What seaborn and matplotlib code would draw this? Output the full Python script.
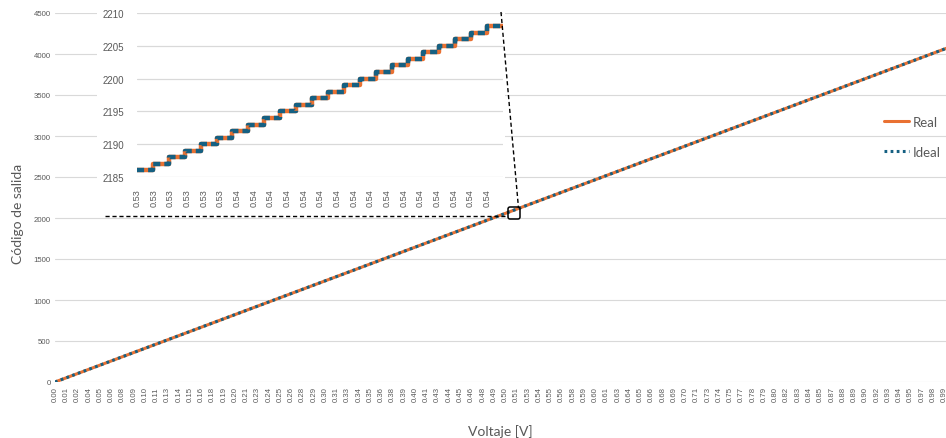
import matplotlib
matplotlib.use("Agg")
import matplotlib.pyplot as plt
from matplotlib.patches import Rectangle, FancyBboxPatch
from matplotlib.lines import Line2D
from matplotlib.transforms import IdentityTransform
import numpy as np
import pandas as pd
import seaborn as sns

# ---- data -------------------------------------------------------------
# full sweep of the 12-bit converter (straight line at this scale)
sweep_voltage = [0.00, 0.25, 0.50, 0.75, 1.00]
real_code = [0, 1024, 2048, 3072, 4095]
ideal_code = [0, 1024, 2048, 3072, 4095]

main_xticklabels = [
    "0.00", "0.01", "0.02", "0.04", "0.05", "0.06", "0.08", "0.09", "0.10", "0.11",
    "0.13", "0.14", "0.15", "0.16", "0.18", "0.19", "0.20", "0.21", "0.23", "0.24",
    "0.25", "0.26", "0.28", "0.29", "0.30", "0.31", "0.33", "0.34", "0.35", "0.36",
    "0.38", "0.39", "0.40", "0.41", "0.43", "0.44", "0.45", "0.46", "0.48", "0.49",
    "0.50", "0.51", "0.53", "0.54", "0.55", "0.56", "0.58", "0.59", "0.60", "0.61",
    "0.63", "0.64", "0.65", "0.66", "0.68", "0.69", "0.70", "0.71", "0.73", "0.74",
    "0.75", "0.77", "0.78", "0.79", "0.80", "0.82", "0.83", "0.84", "0.85", "0.87",
    "0.88", "0.89", "0.90", "0.92", "0.93", "0.94", "0.95", "0.97", "0.98", "0.99",
]
main_yticks = [0, 500, 1000, 1500, 2000, 2500, 3000, 3500, 4000, 4500]

# zoomed detail around 0.535 V: one code per transition voltage
zoom_voltage = [
    0.533691, 0.533936, 0.534180, 0.534424, 0.534668, 0.534912, 0.535156, 0.535400,
    0.535645, 0.535889, 0.536133, 0.536377, 0.536621, 0.536865, 0.537109, 0.537354,
    0.537598, 0.537842, 0.538086, 0.538330, 0.538574, 0.538818, 0.539063, 0.539307,
]
zoom_real = [
    2186, 2187, 2188, 2189, 2190, 2191, 2192, 2193, 2194, 2195, 2196, 2197,
    2198, 2199, 2200, 2201, 2202, 2203, 2204, 2205, 2206, 2207, 2208, 2208,
]
zoom_ideal = [
    2186, 2187, 2188, 2189, 2190, 2191, 2192, 2193, 2194, 2195, 2196, 2197,
    2198, 2199, 2200, 2201, 2202, 2203, 2204, 2205, 2206, 2207, 2208, 2208,
]
zoom_xticklabels = ["0.53"] * 6 + ["0.54"] * 16
zoom_yticks = [2185, 2190, 2195, 2200, 2205, 2210]

# ---- style ------------------------------------------------------------
sns.set_theme(style="white")
plt.rcParams["font.family"] = ["Liberation Sans", "DejaVu Sans"]

ORANGE = "#E97132"
BLUE = "#156082"
GRID = "#D9D9D9"
TEXT = "#595959"

W, H = 946, 439
fig = plt.figure(figsize=(W / 100, H / 100), dpi=100)
fig.patch.set_facecolor("white")


def box(x0, y0, x1, y1):
    return [x0 / W, 1 - y1 / H, (x1 - x0) / W, (y1 - y0) / H]


# ---- main axes ----------------------------------------------------------
ax = fig.add_axes(box(55, 14, 946, 383))
main_df = pd.DataFrame({"V": sweep_voltage, "Real": real_code, "Ideal": ideal_code})
sns.lineplot(data=main_df, x="V", y="Real", ax=ax, color=ORANGE, lw=2.2,
             label="Real", zorder=3)
sns.lineplot(data=main_df, x="V", y="Ideal", ax=ax, color=BLUE, lw=2.2,
             ls=(0, (0.9, 1.1)), label="Ideal", zorder=4)

label_step = 0.01255
ax.set_xlim(0, 891 / 897)
ax.set_ylim(0, 4500)
ax.set_xticks([i * label_step for i in range(len(main_xticklabels))])
ax.set_xticklabels(main_xticklabels, rotation=90, fontsize=5.6, color=TEXT)
ax.set_yticks(main_yticks)
ax.set_yticklabels([str(v) for v in main_yticks], fontsize=5.6, color=TEXT)
ax.tick_params(axis="both", length=0, pad=3)
ax.yaxis.grid(True, color=GRID, lw=0.8)
ax.xaxis.grid(False)
for s in ax.spines.values():
    s.set_visible(False)

ax.set_xlabel("Voltaje [V]", fontsize=10, color=TEXT, family=["Lato", "DejaVu Sans"])
ax.set_ylabel("Código de salida", fontsize=10, color=TEXT, family=["Lato", "DejaVu Sans"])
ax.xaxis.set_label_coords((500 - 55) / 891, (383 - 432) / 369)
ax.xaxis.label.set_va("center")
ax.yaxis.set_label_coords((18 - 55) / 891, (383 - 214) / 369)
ax.yaxis.label.set_va("center")

leg = ax.legend(loc="upper left", bbox_to_anchor=(884 / W, 1 - 117 / H),
                bbox_transform=fig.transFigure, frameon=False, fontsize=9.5,
                handlelength=1.9, handletextpad=0.25, labelspacing=1.35,
                borderpad=0, borderaxespad=0)
for t in leg.get_texts():
    t.set_color(TEXT)
    t.set_family(["Lato", "DejaVu Sans"])

# ---- zoomed inset -------------------------------------------------------
fig.patches.append(Rectangle((97 / W, 1 - 211 / H), (505 - 97) / W, 211 / H,
                             transform=fig.transFigure, facecolor="white",
                             edgecolor="none", zorder=1))
axz = fig.add_axes(box(137, 14, 503, 178))
axz.set_zorder(2)
axz.set_facecolor("none")
zoom_df = pd.DataFrame({"V": zoom_voltage, "Real": zoom_real, "Ideal": zoom_ideal})
sns.lineplot(data=zoom_df, x="V", y="Real", ax=axz, color=ORANGE, lw=3.2,
             drawstyle="steps-post", zorder=3, legend=False)
sns.lineplot(data=zoom_df, x="V", y="Ideal", ax=axz, color=BLUE, lw=3.2,
             ls=(0, (1.6, 0.9)), drawstyle="steps-post", zorder=4, legend=False)

zoom_label_step = 0.0002558
axz.set_xlim(zoom_voltage[0], zoom_voltage[-1])
axz.set_ylim(2185, 2210)
axz.set_xticks([zoom_voltage[0] + k * zoom_label_step for k in range(len(zoom_xticklabels))])
axz.set_xticklabels(zoom_xticklabels, rotation=90, fontsize=6.6, color=TEXT)
axz.set_yticks(zoom_yticks)
axz.set_yticklabels([str(v) for v in zoom_yticks], fontsize=7, color=TEXT)
axz.tick_params(axis="both", length=0)
axz.tick_params(axis="x", pad=8)
axz.tick_params(axis="y", pad=9)
axz.yaxis.grid(True, color=GRID, lw=0.9)
axz.xaxis.grid(False)
axz.set_xlabel("")
axz.set_ylabel("")
for s in axz.spines.values():
    s.set_visible(False)

# ---- callout: box on the main line and dashed leaders -----------------
px = IdentityTransform()
fig.patches.append(FancyBboxPatch((508, H - 220), 12, 12,
                                  boxstyle="round,pad=0,rounding_size=2",
                                  transform=px, facecolor="none",
                                  edgecolor="black", lw=1.1, zorder=5))
fig.lines.append(Line2D([105, 508], [H - 216.5, H - 216.5], transform=px,
                        color="black", lw=1.0, ls=(0, (3, 2)), zorder=5))
fig.lines.append(Line2D([501, 518.5], [H - 13, H - 209], transform=px,
                        color="black", lw=1.0, ls=(0, (3, 2)), zorder=5))

fig.savefig("out.png", dpi=100, facecolor="white")
